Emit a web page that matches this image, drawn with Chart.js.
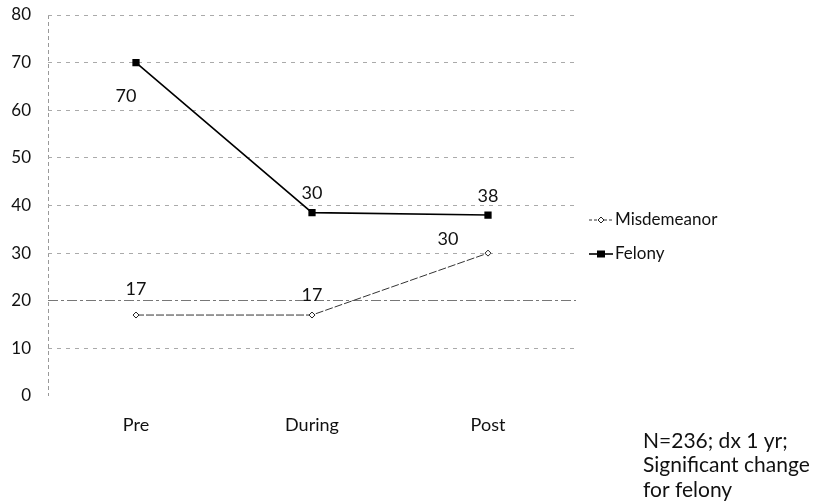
<!DOCTYPE html>
<html>
<head>
<meta charset="utf-8">
<script src="https://cdn.jsdelivr.net/npm/chart.js@4/dist/chart.umd.min.js"></script>
<style>
  html, body { margin: 0; padding: 0; background: #fff; }
  #wrap { position: relative; width: 816px; height: 503px; }
</style>
</head>
<body>
<div id="wrap">
  <canvas id="c" width="816" height="503"></canvas>
</div>
<script>
// Arrest counts by period
const categories = ['Pre', 'During', 'Post'];
const misdemeanor = [17, 17, 30];
const felony = [70, 38.5, 38];
const misdemeanorLabels = ['17', '17', '30'];
const felonyLabels = ['70', '30', '38'];
const noteLines = ['N=236; dx 1 yr;', 'Significant change', 'for felony'];
const yMin = 0, yMax = 80, yStep = 10;

const FONT = 'Lato, "Open Sans", sans-serif';

// Value labels next to each point, offset in pixels
const labelOffsets = [
  [[0, -26], [0, -20], [-40, -14]],
  [[-10, 34], [0, -19], [0, -19]]
];
const labelTexts = [misdemeanorLabels, felonyLabels];

const valueLabels = {
  id: 'valueLabels',
  afterDatasetsDraw(chart) {
    const ctx = chart.ctx;
    ctx.save();
    ctx.font = '18px ' + FONT;
    ctx.fillStyle = '#111';
    ctx.textAlign = 'center';
    ctx.textBaseline = 'middle';
    chart.data.datasets.forEach((ds, di) => {
      chart.getDatasetMeta(di).data.forEach((pt, i) => {
        const off = labelOffsets[di][i];
        ctx.fillText(labelTexts[di][i], pt.x + off[0], pt.y + off[1]);
      });
    });
    ctx.restore();
  }
};

// Legend to the right of the plot, plus the sample note underneath
const sideLegend = {
  id: 'sideLegend',
  afterDraw(chart) {
    const ctx = chart.ctx;
    const x0 = 589, rows = [220, 254];
    ctx.save();
    chart.data.datasets.forEach((ds, di) => {
      const y = rows[di];
      ctx.strokeStyle = ds.borderColor;
      ctx.lineWidth = ds.borderWidth;
      ctx.setLineDash(di === 0 ? [3, 2] : []);
      ctx.beginPath();
      ctx.moveTo(x0, y);
      ctx.lineTo(x0 + 24, y);
      ctx.stroke();
      ctx.setLineDash([]);
      if (ds.pointStyle === 'rect') {
        ctx.fillStyle = ds.pointBackgroundColor;
        ctx.fillRect(x0 + 8, y - 3.5, 8, 7);
      } else {
        ctx.fillStyle = '#fff';
        ctx.strokeStyle = ds.pointBorderColor;
        ctx.lineWidth = 1;
        ctx.beginPath();
        ctx.moveTo(x0 + 12, y - 3); ctx.lineTo(x0 + 15, y);
        ctx.lineTo(x0 + 12, y + 3); ctx.lineTo(x0 + 9, y);
        ctx.closePath(); ctx.fill(); ctx.stroke();
      }
      ctx.fillStyle = '#111';
      ctx.font = '17px ' + FONT;
      ctx.textAlign = 'left';
      ctx.textBaseline = 'middle';
      ctx.fillText(ds.label, x0 + 26, y);
    });

    ctx.font = '21px ' + FONT;
    ctx.textBaseline = 'alphabetic';
    ctx.fillStyle = '#111';
    const baselines = [448, 472, 497];
    noteLines.forEach((t, i) => ctx.fillText(t, 643, baselines[i]));
    ctx.restore();
  }
};

new Chart(document.getElementById('c'), {
  type: 'line',
  data: {
    labels: categories,
    datasets: [
      {
        label: 'Misdemeanor',
        data: misdemeanor,
        borderColor: '#333',
        borderWidth: 1,
        borderDash: [8, 2],
        pointStyle: 'rectRot',
        pointRadius: 3,
        pointBackgroundColor: '#fff',
        pointBorderColor: '#222',
        pointBorderWidth: 1,
        tension: 0
      },
      {
        label: 'Felony',
        data: felony,
        borderColor: '#000',
        borderWidth: 1.6,
        pointStyle: 'rect',
        pointRadius: 4,
        pointBackgroundColor: '#000',
        pointBorderColor: '#000',
        tension: 0
      }
    ]
  },
  options: {
    responsive: false,
    animation: false,
    layout: { padding: { top: 15, right: 240, bottom: 0, left: 0 } },
    plugins: { legend: { display: false }, tooltip: { enabled: false } },
    scales: {
      x: {
        offset: true,
        grid: {
          offset: true,
          drawTicks: false,
          lineWidth: 1,
          color: (c) => c.index === 0 ? '#999' : 'rgba(0,0,0,0)'
        },
        border: { display: false, dash: [4, 3] },
        ticks: {
          color: '#111',
          font: { family: FONT, size: 18 },
          padding: 18
        },
        afterFit(scale) { scale.height = 107; scale.paddingLeft = 0; scale.paddingRight = 0; }
      },
      y: {
        min: yMin,
        max: yMax,
        ticks: {
          stepSize: yStep,
          color: '#111',
          font: { family: FONT, size: 17 },
          padding: 17
        },
        grid: {
          drawTicks: false,
          lineWidth: 1,
          color: (c) => c.tick.value === 0 ? 'rgba(0,0,0,0)' : (c.tick.value === 20 ? '#777' : '#aaa')
        },
        border: {
          display: false,
          dash: (c) => c.tick && c.tick.value === 20 ? [10, 3, 3, 3] : [4, 5]
        },
        afterFit(scale) { scale.width = 48; scale.paddingTop = 0; scale.paddingBottom = 0; }
      }
    }
  },
  plugins: [valueLabels, sideLegend]
});
</script>
</body>
</html>
